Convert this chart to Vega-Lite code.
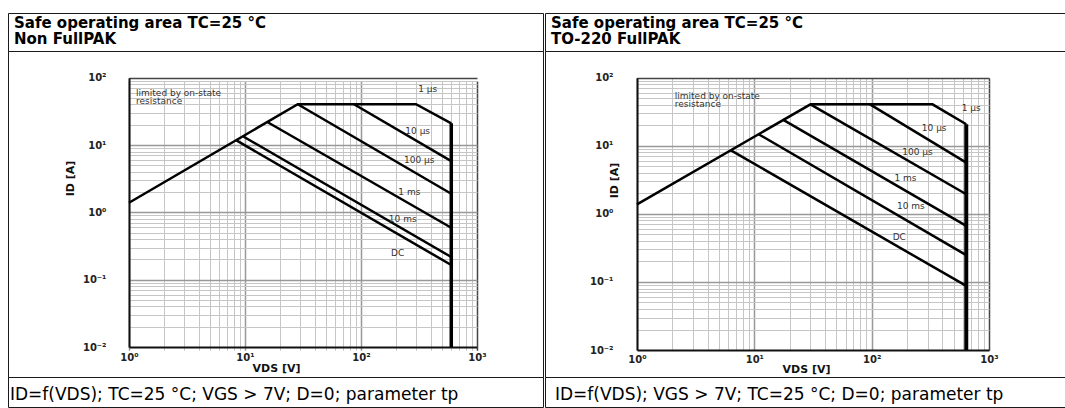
{
  "$schema": "https://vega.github.io/schema/vega-lite/v6.json",
  "padding": {"left": 7, "top": 12, "right": 0, "bottom": 0},
  "background": "white",
  "config": {
    "view": {"stroke": "#1a1a1a", "strokeWidth": 1},
    "font": "DejaVu Sans"
  },
  "datasets": {
    "curves": [
      {"p": "L", "s": "1 µs", "o": 1, "v": 1, "i": 1.39},
      {"p": "L", "s": "1 µs", "o": 2, "v": 28.5, "i": 40.3},
      {"p": "L", "s": "1 µs", "o": 3, "v": 298, "i": 40.3},
      {"p": "L", "s": "1 µs", "o": 4, "v": 600, "i": 21},
      {"p": "L", "s": "Vmax", "o": 1, "v": 600, "i": 21},
      {"p": "L", "s": "Vmax", "o": 2, "v": 600, "i": 0.01},
      {"p": "L", "s": "10 µs", "o": 1, "v": 87, "i": 40.3},
      {"p": "L", "s": "10 µs", "o": 2, "v": 600, "i": 5.78},
      {"p": "L", "s": "100 µs", "o": 1, "v": 28.5, "i": 40.3},
      {"p": "L", "s": "100 µs", "o": 2, "v": 600, "i": 1.89},
      {"p": "L", "s": "1 ms", "o": 1, "v": 15.7, "i": 21.8},
      {"p": "L", "s": "1 ms", "o": 2, "v": 600, "i": 0.59},
      {"p": "L", "s": "10 ms", "o": 1, "v": 9.67, "i": 13.4},
      {"p": "L", "s": "10 ms", "o": 2, "v": 600, "i": 0.217},
      {"p": "L", "s": "DC", "o": 1, "v": 8.44, "i": 11.7},
      {"p": "L", "s": "DC", "o": 2, "v": 600, "i": 0.165},
      {"p": "R", "s": "1 µs", "o": 1, "v": 1, "i": 1.38},
      {"p": "R", "s": "1 µs", "o": 2, "v": 30.1, "i": 40.6},
      {"p": "R", "s": "1 µs", "o": 3, "v": 330, "i": 40.6},
      {"p": "R", "s": "1 µs", "o": 4, "v": 640, "i": 20.7},
      {"p": "R", "s": "Vmax", "o": 1, "v": 640, "i": 20.7},
      {"p": "R", "s": "Vmax", "o": 2, "v": 640, "i": 0.01},
      {"p": "R", "s": "10 µs", "o": 1, "v": 96.8, "i": 40.6},
      {"p": "R", "s": "10 µs", "o": 2, "v": 640, "i": 5.65},
      {"p": "R", "s": "100 µs", "o": 1, "v": 30.1, "i": 40.6},
      {"p": "R", "s": "100 µs", "o": 2, "v": 640, "i": 1.94},
      {"p": "R", "s": "1 ms", "o": 1, "v": 17.5, "i": 24.2},
      {"p": "R", "s": "1 ms", "o": 2, "v": 640, "i": 0.664},
      {"p": "R", "s": "10 ms", "o": 1, "v": 10.8, "i": 14.9},
      {"p": "R", "s": "10 ms", "o": 2, "v": 640, "i": 0.247},
      {"p": "R", "s": "DC", "o": 1, "v": 6.27, "i": 8.65},
      {"p": "R", "s": "DC", "o": 2, "v": 640, "i": 0.0873}
    ],
    "labels": [
      {"p": "L", "t": "1 µs", "v": 376, "i": 67},
      {"p": "L", "t": "10 µs", "v": 308, "i": 16.1},
      {"p": "L", "t": "100 µs", "v": 318, "i": 5.9},
      {"p": "L", "t": "1 ms", "v": 261, "i": 2.02},
      {"p": "L", "t": "10 ms", "v": 229, "i": 0.8},
      {"p": "L", "t": "DC", "v": 207, "i": 0.246},
      {"p": "R", "t": "1 µs", "v": 706, "i": 36.3},
      {"p": "R", "t": "10 µs", "v": 341, "i": 18.4},
      {"p": "R", "t": "100 µs", "v": 246, "i": 8.2},
      {"p": "R", "t": "1 ms", "v": 194, "i": 3.4},
      {"p": "R", "t": "10 ms", "v": 216, "i": 1.31},
      {"p": "R", "t": "DC", "v": 172, "i": 0.46}
    ],
    "notes": [
      {"p": "L", "t": ["limited by on-state", "resistance"], "v": 1.15, "i": 68},
      {"p": "R", "t": ["limited by on-state", "resistance"], "v": 2.1, "i": 61}
    ],
    "cell": [{"k": 0}]
  },
  "spacing": 0,
  "hconcat": [
    {
      "spacing": 0,
      "bounds": "flush",
      "vconcat": [
        {
          "width": 535, "height": 38,
          "title": {"text": ["Safe operating area TC=25 °C", "Non FullPAK"], "anchor": "start", "frame": "group", "orient": "bottom", "offset": -35, "baseline": "top", "dx": 6, "fontSize": 15, "fontWeight": "bold", "font": "DejaVu Sans", "color": "black", "lineHeight": 16},
          "data": {"name": "cell"},
          "mark": {"type": "point", "opacity": 0},
          "encoding": {
            "x": {"field": "k", "type": "quantitative", "axis": null},
            "y": {"field": "k", "type": "quantitative", "axis": null}
          }
        },
        {
          "width": 535, "height": 326,
          "encoding": {
            "x": {"field": "v", "type": "quantitative",
              "scale": {"type": "log", "domain": [1, 1000], "range": [121, 469], "nice": false},
              "axis": {"orient": "bottom", "offset": -30,
                "values": [1,2,3,4,5,6,7,8,9,10,20,30,40,50,60,70,80,90,100,200,300,400,500,600,700,800,900,1000],
                "grid": true, "ticks": false, "domain": true, "domainColor": "#111", "domainWidth": 2,
                "labelExpr": "datum.value == 1 ? '10⁰' : datum.value == 10 ? '10¹' : datum.value == 100 ? '10²' : datum.value == 1000 ? '10³' : ''",
                "labelOverlap": false, "labelFlush": false, "labelBound": false,
                "labelFont": "DejaVu Sans", "labelFontSize": 10, "labelFontWeight": "bold", "labelColor": "#222", "labelPadding": 5,
                "title": "VDS [V]", "titleFont": "DejaVu Sans", "titleFontSize": 11, "titleFontWeight": "bold", "titleColor": "#111",
                "titleX": 268, "titleY": 21, "titleBaseline": "middle", "titleAlign": "center",
                "gridColor": {"condition": [{"test": "datum.value == 1000", "value": "#444"}, {"test": "datum.value == 1 || datum.value == 10 || datum.value == 100", "value": "#999"}], "value": "#c6c6c6"},
                "gridWidth": {"condition": {"test": "datum.value == 1 || datum.value == 10 || datum.value == 100 || datum.value == 1000", "value": 1.5}, "value": 1},
                "gridOpacity": 1}
            },
            "y": {"field": "i", "type": "quantitative",
              "scale": {"type": "log", "domain": [0.01, 100], "range": [296, 26.7], "nice": false},
              "axis": {"orient": "left", "offset": -121,
                "values": [0.01,0.02,0.03,0.04,0.05,0.06,0.07,0.08,0.09,0.1,0.2,0.3,0.4,0.5,0.6,0.7,0.8,0.9,1,2,3,4,5,6,7,8,9,10,20,30,40,50,60,70,80,90,100],
                "grid": true, "ticks": false, "domain": true, "domainColor": "#111", "domainWidth": 2,
                "labelExpr": "datum.value == 0.01 ? '10⁻²' : datum.value == 0.1 ? '10⁻¹' : datum.value == 1 ? '10⁰' : datum.value == 10 ? '10¹' : datum.value == 100 ? '10²' : ''",
                "labelOverlap": false, "labelFlush": false, "labelBound": false,
                "labelFont": "DejaVu Sans", "labelFontSize": 10, "labelFontWeight": "bold", "labelColor": "#222", "labelPadding": 23,
                "title": "ID [A]", "titleFont": "DejaVu Sans", "titleFontSize": 11, "titleFontWeight": "bold", "titleColor": "#111",
                "titleX": -59, "titleY": 127, "titleAngle": -90, "titleBaseline": "middle", "titleAlign": "center",
                "gridColor": {"condition": [{"test": "datum.value == 100", "value": "#444"}, {"test": "datum.value == 0.1 || datum.value == 1 || datum.value == 10", "value": "#999"}], "value": "#c6c6c6"},
                "gridWidth": {"condition": {"test": "datum.value == 0.1 || datum.value == 1 || datum.value == 10 || datum.value == 100", "value": 1.5}, "value": 1},
                "gridOpacity": 1}
            }
          },
          "layer": [
            {
              "data": {"name": "curves"},
              "transform": [{"filter": "datum.p == 'L' && datum.s != 'Vmax'"}],
              "mark": {"type": "line", "color": "black", "strokeWidth": 2.5},
              "encoding": {"detail": {"field": "s"}, "order": {"field": "o"}}
            },
            {
              "data": {"name": "curves"},
              "transform": [{"filter": "datum.p == 'L' && datum.s == 'Vmax'"}],
              "mark": {"type": "line", "color": "black", "strokeWidth": 3.5},
              "encoding": {"order": {"field": "o"}}
            },
            {
              "data": {"name": "labels"},
              "transform": [{"filter": "datum.p == 'L'"}],
              "mark": {"type": "text", "fontSize": 9, "font": "DejaVu Sans", "color": "#333", "align": "center", "baseline": "middle"},
              "encoding": {"text": {"field": "t"}}
            },
            {
              "data": {"name": "notes"},
              "transform": [{"filter": "datum.p == 'L'"}],
              "mark": {"type": "text", "fontSize": 9, "font": "DejaVu Sans", "color": "#333", "align": "left", "baseline": "top", "lineHeight": 8},
              "encoding": {"text": {"field": "t"}}
            }
          ]
        },
        {
          "width": 535, "height": 30,
          "title": {"text": "ID=f(VDS); TC=25 °C; VGS > 7V; D=0; parameter tp", "anchor": "start", "frame": "group", "orient": "bottom", "offset": -20, "baseline": "top", "dx": 2, "fontSize": 17, "fontWeight": "normal", "font": "DejaVu Sans", "color": "black"},
          "data": {"name": "cell"},
          "mark": {"type": "point", "opacity": 0},
          "encoding": {
            "x": {"field": "k", "type": "quantitative", "axis": null},
            "y": {"field": "k", "type": "quantitative", "axis": null}
          }
        }
      ]
    },
    {
      "spacing": 0,
      "bounds": "flush",
      "vconcat": [
        {
          "width": 521, "height": 38,
          "title": {"text": ["Safe operating area TC=25 °C", "TO-220 FullPAK"], "anchor": "start", "frame": "group", "orient": "bottom", "offset": -35, "baseline": "top", "dx": 6, "fontSize": 15, "fontWeight": "bold", "font": "DejaVu Sans", "color": "black", "lineHeight": 16},
          "data": {"name": "cell"},
          "mark": {"type": "point", "opacity": 0},
          "encoding": {
            "x": {"field": "k", "type": "quantitative", "axis": null},
            "y": {"field": "k", "type": "quantitative", "axis": null}
          }
        },
        {
          "width": 521, "height": 326,
          "encoding": {
            "x": {"field": "v", "type": "quantitative",
              "scale": {"type": "log", "domain": [1, 1000], "range": [92, 444], "nice": false},
              "axis": {"orient": "bottom", "offset": -27,
                "values": [1,2,3,4,5,6,7,8,9,10,20,30,40,50,60,70,80,90,100,200,300,400,500,600,700,800,900,1000],
                "grid": true, "ticks": false, "domain": true, "domainColor": "#111", "domainWidth": 2,
                "labelExpr": "datum.value == 1 ? '10⁰' : datum.value == 10 ? '10¹' : datum.value == 100 ? '10²' : datum.value == 1000 ? '10³' : ''",
                "labelOverlap": false, "labelFlush": false, "labelBound": false,
                "labelFont": "DejaVu Sans", "labelFontSize": 10, "labelFontWeight": "bold", "labelColor": "#222", "labelPadding": 4,
                "title": "VDS [V]", "titleFont": "DejaVu Sans", "titleFontSize": 11, "titleFontWeight": "bold", "titleColor": "#111",
                "titleX": 261, "titleY": 19, "titleBaseline": "middle", "titleAlign": "center",
                "gridColor": {"condition": [{"test": "datum.value == 1000", "value": "#444"}, {"test": "datum.value == 1 || datum.value == 10 || datum.value == 100", "value": "#999"}], "value": "#c6c6c6"},
                "gridWidth": {"condition": {"test": "datum.value == 1 || datum.value == 10 || datum.value == 100 || datum.value == 1000", "value": 1.5}, "value": 1},
                "gridOpacity": 1}
            },
            "y": {"field": "i", "type": "quantitative",
              "scale": {"type": "log", "domain": [0.01, 100], "range": [299, 26.7], "nice": false},
              "axis": {"orient": "left", "offset": -92,
                "values": [0.01,0.02,0.03,0.04,0.05,0.06,0.07,0.08,0.09,0.1,0.2,0.3,0.4,0.5,0.6,0.7,0.8,0.9,1,2,3,4,5,6,7,8,9,10,20,30,40,50,60,70,80,90,100],
                "grid": true, "ticks": false, "domain": true, "domainColor": "#111", "domainWidth": 2,
                "labelExpr": "datum.value == 0.01 ? '10⁻²' : datum.value == 0.1 ? '10⁻¹' : datum.value == 1 ? '10⁰' : datum.value == 10 ? '10¹' : datum.value == 100 ? '10²' : ''",
                "labelOverlap": false, "labelFlush": false, "labelBound": false,
                "labelFont": "DejaVu Sans", "labelFontSize": 10, "labelFontWeight": "bold", "labelColor": "#222", "labelPadding": 24,
                "title": "ID [A]", "titleFont": "DejaVu Sans", "titleFontSize": 11, "titleFontWeight": "bold", "titleColor": "#111",
                "titleX": -23, "titleY": 129, "titleAngle": -90, "titleBaseline": "middle", "titleAlign": "center",
                "gridColor": {"condition": [{"test": "datum.value == 100", "value": "#444"}, {"test": "datum.value == 0.1 || datum.value == 1 || datum.value == 10", "value": "#999"}], "value": "#c6c6c6"},
                "gridWidth": {"condition": {"test": "datum.value == 0.1 || datum.value == 1 || datum.value == 10 || datum.value == 100", "value": 1.5}, "value": 1},
                "gridOpacity": 1}
            }
          },
          "layer": [
            {
              "data": {"name": "curves"},
              "transform": [{"filter": "datum.p == 'R' && datum.s != 'Vmax'"}],
              "mark": {"type": "line", "color": "black", "strokeWidth": 2.5},
              "encoding": {"detail": {"field": "s"}, "order": {"field": "o"}}
            },
            {
              "data": {"name": "curves"},
              "transform": [{"filter": "datum.p == 'R' && datum.s == 'Vmax'"}],
              "mark": {"type": "line", "color": "black", "strokeWidth": 4},
              "encoding": {"order": {"field": "o"}}
            },
            {
              "data": {"name": "labels"},
              "transform": [{"filter": "datum.p == 'R'"}],
              "mark": {"type": "text", "fontSize": 9, "font": "DejaVu Sans", "color": "#333", "align": "center", "baseline": "middle"},
              "encoding": {"text": {"field": "t"}}
            },
            {
              "data": {"name": "notes"},
              "transform": [{"filter": "datum.p == 'R'"}],
              "mark": {"type": "text", "fontSize": 9, "font": "DejaVu Sans", "color": "#333", "align": "left", "baseline": "top", "lineHeight": 8},
              "encoding": {"text": {"field": "t"}}
            }
          ]
        },
        {
          "width": 521, "height": 30,
          "title": {"text": "ID=f(VDS); VGS > 7V; TC=25 °C; D=0; parameter tp", "anchor": "start", "frame": "group", "orient": "bottom", "offset": -20, "baseline": "top", "dx": 10, "fontSize": 17, "fontWeight": "normal", "font": "DejaVu Sans", "color": "black"},
          "data": {"name": "cell"},
          "mark": {"type": "point", "opacity": 0},
          "encoding": {
            "x": {"field": "k", "type": "quantitative", "axis": null},
            "y": {"field": "k", "type": "quantitative", "axis": null}
          }
        }
      ]
    }
  ]
}
